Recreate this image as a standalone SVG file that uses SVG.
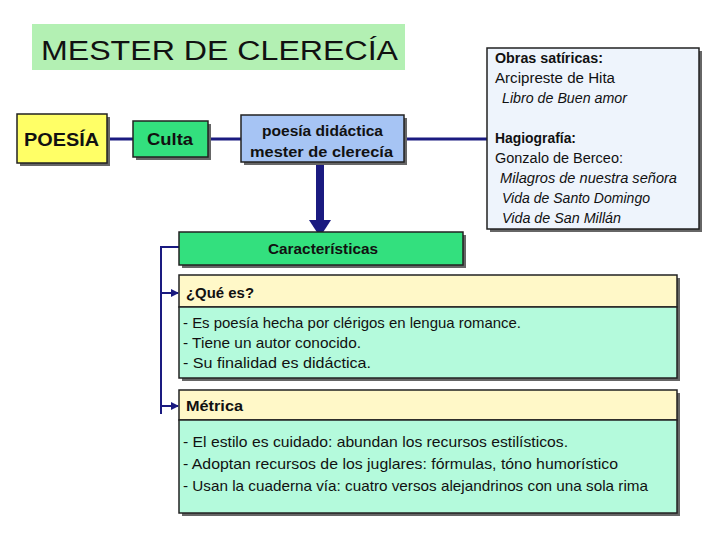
<svg xmlns="http://www.w3.org/2000/svg" width="728" height="546" viewBox="0 0 728 546">
<defs>
<style>
.t{font-family:"Liberation Sans","DejaVu Sans",sans-serif;fill:#111}
.box{stroke:#222;stroke-width:1.5}
.sh{fill:#666}
.con{stroke:#1a1a80;fill:none}
</style>
<marker id="ah" markerWidth="8" markerHeight="8" refX="7" refY="4" orient="auto" markerUnits="userSpaceOnUse">
<path d="M0,0 L8,4 L0,8 Z" fill="#1a1a80"/>
</marker>
</defs>
<rect width="728" height="546" fill="#fff"/>
<g id="title">
<rect x="32" y="24" width="373" height="46" fill="#b3f0b3"/>
<text class="t" x="41" y="60" font-size="27" textLength="357" lengthAdjust="spacingAndGlyphs">MESTER DE CLERECÍA</text>
</g>
<g id="connectors">
<line class="con" x1="107" y1="139" x2="133" y2="139" stroke-width="3"/>
<line class="con" x1="208" y1="139" x2="241" y2="139" stroke-width="3"/>
<line class="con" x1="404" y1="139" x2="487" y2="139" stroke-width="3"/>
<line class="con" x1="320" y1="162" x2="320" y2="222" stroke-width="8"/>
<path d="M309,220 L331,220 L320,237 Z" fill="#1a1a80"/>
<path class="con" d="M179,247 H161 V414" stroke-width="2"/>
<line class="con" x1="161" y1="293" x2="178" y2="293" stroke-width="2" marker-end="url(#ah)"/>
<line class="con" x1="161" y1="406" x2="178" y2="406" stroke-width="2" marker-end="url(#ah)"/>
</g>
<g id="poesia">
<rect class="sh" x="20" y="117" width="90" height="49"/>
<rect class="box" x="17" y="114" width="90" height="49" fill="#ffff66"/>
<text class="t" x="24" y="146" font-size="18" font-weight="bold" textLength="75" lengthAdjust="spacingAndGlyphs">POESÍA</text>
</g>
<g id="culta">
<rect class="sh" x="136" y="124" width="75" height="36"/>
<rect class="box" x="133" y="121" width="75" height="36" fill="#33e07e"/>
<text class="t" x="147" y="145" font-size="17" font-weight="bold" textLength="46" lengthAdjust="spacingAndGlyphs">Culta</text>
</g>
<g id="didactica">
<rect class="sh" x="244" y="118" width="163" height="47"/>
<rect class="box" x="241" y="115" width="163" height="47" fill="#a6c4f4"/>
<text class="t" x="262" y="136" font-size="15" font-weight="bold" textLength="121" lengthAdjust="spacingAndGlyphs">poesía didáctica</text>
<text class="t" x="250" y="157" font-size="15" font-weight="bold" textLength="143" lengthAdjust="spacingAndGlyphs">mester de clerecía</text>
</g>
<g id="obras">
<rect class="sh" x="490" y="51" width="212" height="181"/>
<rect class="box" x="487" y="48" width="212" height="181" fill="#eef4fc"/>
<g class="t" font-size="14">
<text x="495" y="63" font-weight="bold" textLength="108" lengthAdjust="spacingAndGlyphs">Obras satíricas:</text>
<text x="495" y="83" textLength="120" lengthAdjust="spacingAndGlyphs">Arcipreste de Hita</text>
<text x="502" y="103" font-style="italic" textLength="125" lengthAdjust="spacingAndGlyphs">Libro de Buen amor</text>
<text x="495" y="143" font-weight="bold" textLength="81" lengthAdjust="spacingAndGlyphs">Hagiografía:</text>
<text x="495" y="163" textLength="128" lengthAdjust="spacingAndGlyphs">Gonzalo de Berceo:</text>
<text x="500" y="183" font-style="italic" textLength="177" lengthAdjust="spacingAndGlyphs">Milagros de nuestra señora</text>
<text x="502" y="203" font-style="italic" textLength="148" lengthAdjust="spacingAndGlyphs">Vida de Santo Domingo</text>
<text x="502" y="223" font-style="italic" textLength="119" lengthAdjust="spacingAndGlyphs">Vida de San Millán</text>
</g>
</g>
<g id="caracteristicas">
<rect class="sh" x="182" y="235" width="284" height="33"/>
<rect class="box" x="179" y="232" width="284" height="33" fill="#33e07e"/>
<text class="t" x="268" y="254" font-size="15" font-weight="bold" textLength="110" lengthAdjust="spacingAndGlyphs">Características</text>
</g>
<g id="que-es">
<rect class="sh" x="182" y="278" width="498" height="103"/>
<rect class="box" x="179" y="275" width="498" height="32" fill="#fff8c8"/>
<rect class="box" x="179" y="307" width="498" height="71" fill="#b4fadc"/>
<text class="t" x="186" y="298" font-size="15" font-weight="bold" textLength="68" lengthAdjust="spacingAndGlyphs">¿Qué es?</text>
<g class="t" font-size="15">
<text x="183" y="328" textLength="338" lengthAdjust="spacingAndGlyphs">- Es poesía hecha por clérigos en lengua romance.</text>
<text x="183" y="348" textLength="178" lengthAdjust="spacingAndGlyphs">- Tiene un autor conocido.</text>
<text x="183" y="368" textLength="188" lengthAdjust="spacingAndGlyphs">- Su finalidad es didáctica.</text>
</g>
</g>
<g id="metrica">
<rect class="sh" x="182" y="393" width="498" height="123"/>
<rect class="box" x="179" y="390" width="498" height="30" fill="#fff8c8"/>
<rect class="box" x="179" y="420" width="498" height="93" fill="#b4fadc"/>
<text class="t" x="186" y="411" font-size="15" font-weight="bold" textLength="57" lengthAdjust="spacingAndGlyphs">Métrica</text>
<g class="t" font-size="15">
<text x="183" y="447" textLength="385" lengthAdjust="spacingAndGlyphs">- El estilo es cuidado: abundan los recursos estilísticos.</text>
<text x="183" y="469" textLength="435" lengthAdjust="spacingAndGlyphs">- Adoptan recursos de los juglares: fórmulas, tóno humorístico</text>
<text x="183" y="491" textLength="465" lengthAdjust="spacingAndGlyphs">- Usan la cuaderna vía: cuatro versos alejandrinos con una sola rima</text>
</g>
</g>
</svg>
